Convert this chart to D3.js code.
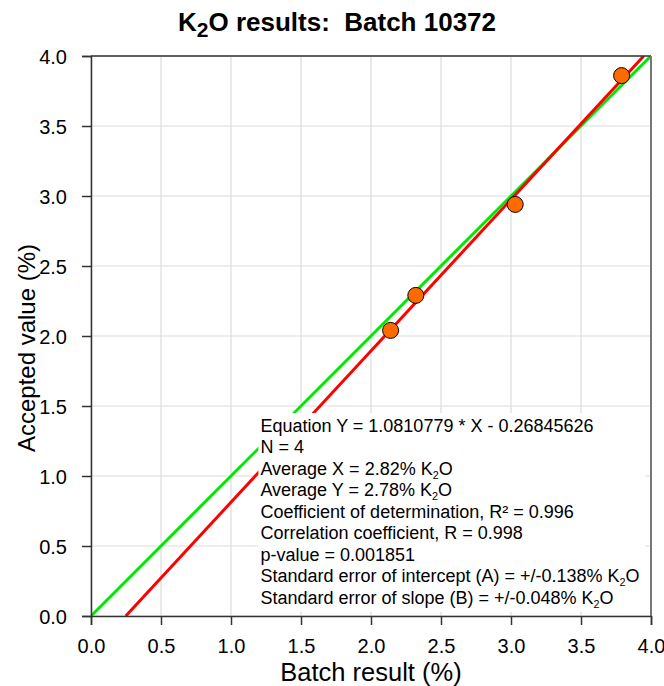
<!DOCTYPE html>
<html>
<head>
<meta charset="utf-8">
<script src="https://cdn.jsdelivr.net/npm/d3@7"></script>
<style>
  html, body { margin: 0; padding: 0; background: #fff; }
  svg { display: block; font-family: "Liberation Sans", Arial, sans-serif; }
  text { white-space: pre; }
</style>
</head>
<body>
<svg id="chart" width="664" height="686"></svg>
<script>
// Batch measurements (x) against accepted values (y), % K2O
const batchResult = [2.14, 2.32, 3.03, 3.79];
const acceptedValue = [2.04, 2.29, 2.94, 3.86];

// Least-squares fit reported in the statistics box
const fitSlope = 1.0810779;
const fitIntercept = -0.26845626;

const xTicks = [0, 0.5, 1, 1.5, 2, 2.5, 3, 3.5, 4];
const yTicks = [0, 0.5, 1, 1.5, 2, 2.5, 3, 3.5, 4];

// Statistics box lines: [text before subscript, subscript, text after]
const statLines = [
  ["Equation Y = 1.0810779 * X - 0.26845626"],
  ["N = 4"],
  ["Average X = 2.82% K", "2", "O"],
  ["Average Y = 2.78% K", "2", "O"],
  ["Coefficient of determination, R\u00B2 = 0.996"],
  ["Correlation coefficient, R = 0.998"],
  ["p-value = 0.001851"],
  ["Standard error of intercept (A) = +/-0.138% K", "2", "O"],
  ["Standard error of slope (B) = +/-0.048% K", "2", "O"]
];

const svg = d3.select("#chart");
const margin = { left: 91, right: 13, top: 56, bottom: 70 };
const W = 664, H = 686;
const pw = W - margin.left - margin.right;
const ph = H - margin.top - margin.bottom;

const x = d3.scaleLinear().domain([0, 4]).range([0, pw]);
const y = d3.scaleLinear().domain([0, 4]).range([ph, 0]);

const g = svg.append("g").attr("transform", `translate(${margin.left},${margin.top})`);

// grid
g.append("g").selectAll("line").data(xTicks).join("line")
  .attr("x1", d => x(d)).attr("x2", d => x(d)).attr("y1", 0).attr("y2", ph)
  .attr("stroke", "#dcdcdc").attr("stroke-width", 1.2);
g.append("g").selectAll("line").data(yTicks).join("line")
  .attr("y1", d => y(d)).attr("y2", d => y(d)).attr("x1", 0).attr("x2", pw)
  .attr("stroke", "#dcdcdc").attr("stroke-width", 1.2);

svg.append("clipPath").attr("id", "plotclip")
  .append("rect").attr("width", pw).attr("height", ph);

const lines = g.append("g").attr("clip-path", "url(#plotclip)");

// identity line
lines.append("line")
  .attr("x1", x(0)).attr("y1", y(0)).attr("x2", x(4)).attr("y2", y(4))
  .attr("stroke", "#00e800").attr("stroke-width", 3);

// regression line
const fx0 = -fitIntercept / fitSlope, fx1 = (4 - fitIntercept) / fitSlope;
lines.append("line")
  .attr("x1", x(fx0)).attr("y1", y(0)).attr("x2", x(fx1)).attr("y2", y(4))
  .attr("stroke", "#ff0000").attr("stroke-width", 3);

// statistics box
const boxX = x(1.21), boxTop = y(1.45), boxRight = x(3.96), boxBottom = y(0.03);
g.append("rect")
  .attr("x", boxX - 2).attr("y", boxTop)
  .attr("width", boxRight - boxX + 2).attr("height", boxBottom - boxTop)
  .attr("fill", "#fff");

const statFont = 18;
const statText = g.append("g").attr("font-size", statFont).attr("fill", "#000");
statLines.forEach((ln, i) => {
  const t = statText.append("text")
    .attr("x", boxX).attr("y", boxTop + 18.5 + i * 21.5);
  t.append("tspan").text(ln[0]);
  if (ln.length > 1) {
    t.append("tspan").attr("font-size", statFont * 0.6).attr("dy", 4).text(ln[1]);
    t.append("tspan").attr("dy", -4).text(ln[2]);
  }
});

// points
g.append("g").selectAll("circle").data(batchResult).join("circle")
  .attr("cx", d => x(d)).attr("cy", (d, i) => y(acceptedValue[i]))
  .attr("r", 8).attr("fill", "#ff6a00").attr("stroke", "#000").attr("stroke-width", 1);

// frame
g.append("line").attr("x1", 0).attr("x2", pw).attr("y1", 0).attr("y2", 0)
  .attr("stroke", "#333").attr("stroke-width", 1.5);
g.append("line").attr("x1", pw).attr("x2", pw).attr("y1", 0).attr("y2", ph)
  .attr("stroke", "#777").attr("stroke-width", 2);

// axes
const fmt = d3.format(".1f");
const xAxis = g.append("g").attr("transform", `translate(0,${ph})`)
  .call(d3.axisBottom(x).tickValues(xTicks).tickFormat(fmt).tickSize(9).tickPadding(14));
const yAxis = g.append("g")
  .call(d3.axisLeft(y).tickValues(yTicks).tickFormat(fmt).tickSize(9).tickPadding(15));
[xAxis, yAxis].forEach(a => {
  a.selectAll("path, line").attr("stroke", "#333").attr("stroke-width", 1.5);
  a.selectAll("text").attr("font-size", 20).attr("fill", "#000")
    .attr("font-family", "Liberation Sans, Arial, sans-serif");
});
yAxis.selectAll("text").attr("dy", "0.36em");

// axis titles
svg.append("text")
  .attr("x", margin.left + pw / 2).attr("y", 681)
  .attr("text-anchor", "middle").attr("font-size", 25.5).text("Batch result (%)");
svg.append("text")
  .attr("transform", "translate(35,348) rotate(-90)")
  .attr("text-anchor", "middle").attr("font-size", 24).text("Accepted value (%)");

// chart title
const title = svg.append("text")
  .attr("x", 337).attr("y", 31)
  .attr("text-anchor", "middle").attr("font-size", 26).attr("font-weight", "bold");
title.append("tspan").text("K");
title.append("tspan").attr("dy", 6).attr("font-size", 21).text("2");
title.append("tspan").attr("dy", -6).text("O results:  Batch 10372");
</script>
</body>
</html>
